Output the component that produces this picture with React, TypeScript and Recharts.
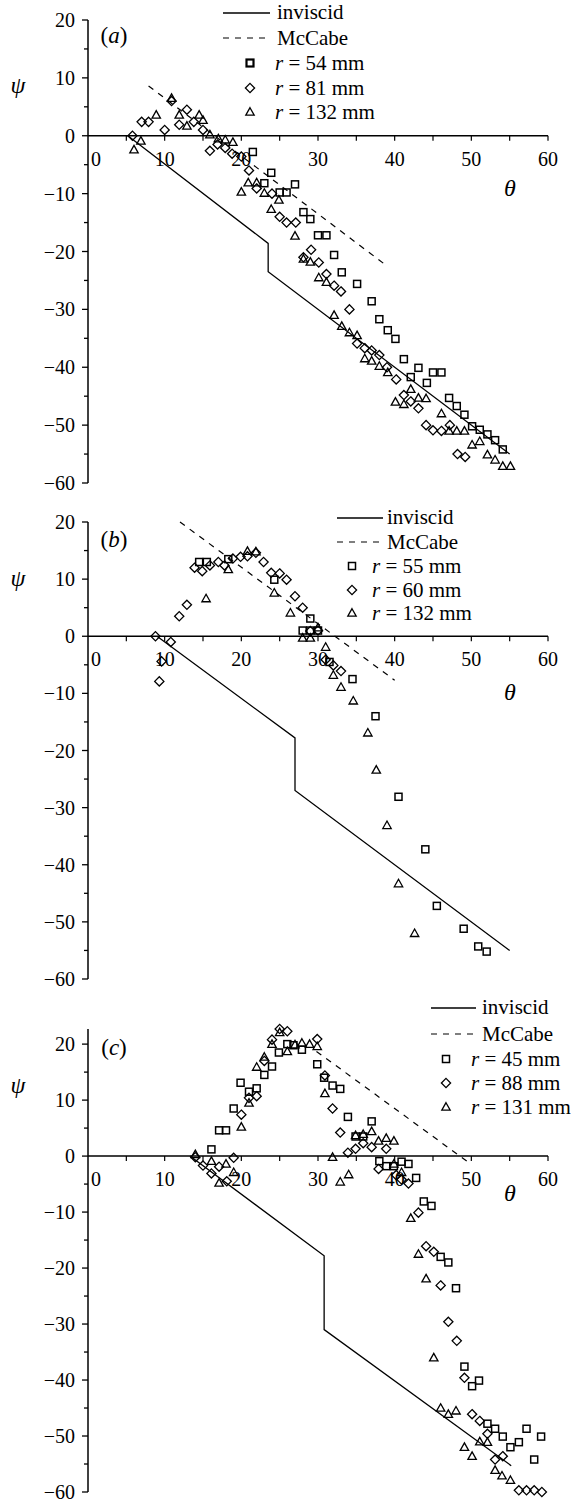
import React from 'react'
import {
  ComposedChart, Scatter, Line, XAxis, YAxis, ReferenceLine, ReferenceDot, Legend, Customized,
} from 'recharts'

type Pt = [number, number]

const xTicks = [0, 5, 10, 15, 20, 25, 30, 35, 40, 45, 50, 55, 60]
const yTicks = [-60, -55, -50, -45, -40, -35, -30, -25, -20, -15, -10, -5, 0, 5, 10, 15, 20]

// (a)
const inviscidA: Pt[] = [[5.2, 0], [23.5, -18.6], [23.5, -23.5], [55, -55]]
const mccabeA: Pt[] = [[7.9, 8.6], [39.0, -22.5]]
const r54: Pt[] = [
  [21.5, -2.8], [23.0, -8.2], [23.9, -6.4], [25.0, -9.8], [25.9, -9.8], [27.0, -8.4], [28.1, -13.2],
  [29.0, -14.4], [30.0, -17.2], [31.1, -17.2], [32.1, -20.6], [33.1, -23.6], [35.1, -25.6], [37.0, -28.6],
  [38.0, -31.7], [39.1, -33.6], [40.1, -35.1], [41.2, -38.6], [42.1, -41.7], [43.1, -40.1], [44.2, -42.7],
  [45.0, -40.9], [46.1, -40.9], [47.1, -45.3], [48.1, -46.7], [49.1, -48.2], [50.1, -50.2], [51.1, -50.8],
  [52.1, -51.6], [53.1, -52.6], [54.1, -54.2],
]
const r81: Pt[] = [
  [5.8, 0], [7.0, 2.4], [7.9, 2.4], [10.0, 1.0], [10.9, 6.0], [11.9, 1.9], [12.9, 4.5], [13.8, 2.4],
  [15.0, 1.0], [15.9, -2.6], [16.9, -1.5], [17.9, -2.1], [18.8, -3.1], [20.0, -3.6], [21.0, -6.0],
  [22.0, -9.1], [24.0, -10.0], [25.0, -14.0], [25.9, -15.0], [27.1, -15.0], [28.1, -21.0], [29.1, -19.7],
  [30.1, -21.9], [31.1, -23.9], [32.1, -25.9], [33.0, -26.9], [34.1, -30.0], [35.1, -35.9], [36.1, -36.7],
  [37.0, -37.1], [38.0, -37.9], [39.0, -40.0], [40.2, -42.1], [41.2, -44.8], [42.1, -45.9], [43.1, -47.1],
  [44.1, -50.0], [45.0, -50.9], [46.1, -51.0], [47.2, -50.0], [48.2, -55.0], [49.2, -55.5],
]
const r132a: Pt[] = [
  [6.0, -2.4], [6.9, -0.9], [8.9, 3.6], [10.9, 6.5], [11.9, 3.6], [12.9, 1.7], [14.5, 3.6], [15.0, 2.7],
  [15.9, 0.2], [17.0, -0.5], [17.9, -0.7], [18.9, -1.1], [20.0, -9.7], [20.9, -8.1], [22.0, -8.1],
  [23.0, -9.9], [23.9, -12.7], [24.9, -11.1], [27.0, -17.3], [28.1, -21.3], [29.0, -21.8], [30.1, -24.5],
  [31.1, -25.3], [32.1, -31.0], [33.1, -32.9], [34.1, -34.0], [35.1, -34.5], [36.1, -38.5], [37.0, -38.9],
  [38.0, -39.8], [39.1, -40.9], [40.1, -46.0], [41.2, -46.4], [42.1, -43.8], [43.1, -45.3], [44.1, -45.4],
  [46.1, -48.0], [47.1, -51.0], [48.1, -51.0], [49.1, -51.0], [50.1, -53.4], [51.1, -52.8], [52.1, -55.1],
  [53.1, -56.0], [54.1, -57.1], [55.1, -57.1],
]

// (b)
const inviscidB: Pt[] = [[9.0, 0], [27.0, -17.8], [27.0, -27.0], [55, -55]]
const mccabeB: Pt[] = [[12.0, 20], [40.0, -7.7]]
const r55: Pt[] = [
  [14.5, 13.0], [15.5, 13.0], [18.3, 13.5], [24.3, 9.9], [28.0, 1.0], [29.0, 3.1], [29.0, 1.0], [30.0, 1.0],
  [31.5, -4.5], [34.5, -7.5], [37.5, -14.0], [40.5, -28.1], [44.0, -37.3], [45.5, -47.2], [49.0, -51.2],
  [50.9, -54.3], [52.0, -55.2],
]
const r60: Pt[] = [
  [8.8, 0], [9.3, -7.9], [9.6, -4.4], [10.8, -1.0], [11.9, 3.5], [12.9, 5.5], [13.9, 12.0], [14.9, 11.4],
  [15.9, 12.4], [17.0, 13.0], [17.8, 12.4], [18.9, 13.6], [19.9, 13.9], [20.8, 14.0], [21.9, 14.6],
  [22.9, 13.0], [23.9, 11.1], [25.0, 11.0], [25.9, 9.9], [27.0, 7.0], [28.0, 5.0], [29.0, 0.9], [30.0, 1.0],
  [31.0, -4.1], [32.0, -5.1], [33.0, -6.1],
]
const r132b: Pt[] = [
  [15.4, 6.6], [18.3, 11.7], [20.8, 14.9], [21.9, 14.8], [24.3, 7.6], [26.4, 4.1], [28.0, -0.3], [29.0, -0.3],
  [30.0, 1.5], [31.0, -1.9], [32.0, -6.8], [33.0, -8.9], [34.6, -11.3], [36.5, -16.9], [37.6, -23.4],
  [39.0, -33.1], [40.5, -43.3], [42.6, -52.0],
]

// (c)
const inviscidC: Pt[] = [[13.3, 0], [30.8, -17.8], [30.8, -31.0], [55.2, -55.3]]
const mccabeC: Pt[] = [[29.8, 18.7], [50.0, -1.5]]
const r45: Pt[] = [
  [16.1, 1.2], [17.1, 4.6], [18.0, 4.6], [19.0, 8.5], [19.9, 13.1], [21.0, 11.5], [22.0, 12.1], [23.0, 14.5],
  [24.0, 16.0], [24.9, 18.5], [26.0, 20.0], [26.8, 19.8], [27.9, 19.0], [29.9, 16.4], [30.8, 14.0],
  [31.9, 12.6], [32.9, 12.0], [33.9, 7.0], [34.9, 3.5], [35.9, 3.5], [37.0, 6.2], [38.0, -0.9], [38.9, -1.8],
  [39.9, -1.8], [40.9, -1.0], [41.8, -1.4], [42.8, -3.9], [43.8, -8.1], [44.8, -8.9], [46.0, -18.0],
  [47.0, -19.0], [48.0, -23.6], [49.1, -37.6], [50.1, -41.1], [51.0, -40.1], [52.1, -47.8], [53.1, -48.7],
  [54.1, -50.1], [55.1, -52.0], [56.2, -51.1], [57.2, -48.7], [58.2, -54.2], [59.1, -50.1],
]
const r88: Pt[] = [
  [14.0, -0.2], [15.0, -1.7], [16.1, -3.1], [17.1, -1.9], [18.1, -4.5], [19.0, -0.3], [20.0, 7.4],
  [21.0, 10.4], [22.0, 10.7], [23.0, 17.0], [24.0, 20.8], [25.0, 22.7], [26.0, 22.3], [29.9, 20.9],
  [30.9, 14.4], [31.9, 8.5], [32.9, 4.2], [33.9, 0.6], [34.9, 1.3], [35.9, 2.3], [37.0, 1.6], [37.9, -2.3],
  [38.9, 1.3], [40.2, -3.4], [40.9, -4.2], [41.8, -4.9], [43.1, -10.1], [44.1, -16.1], [45.1, -17.1],
  [46.0, -23.1], [47.0, -29.6], [48.1, -33.0], [49.1, -39.6], [50.1, -46.1], [51.1, -47.3], [52.1, -49.6],
  [53.1, -54.2], [54.1, -53.6], [56.2, -59.7], [57.2, -59.7], [58.2, -59.7], [59.2, -60.0],
]
const r131: Pt[] = [
  [14.0, 0.3], [16.1, -0.9], [17.1, -4.8], [18.0, -1.4], [19.0, -2.9], [20.0, 5.2], [21.0, 9.5],
  [22.0, 15.9], [23.0, 17.7], [24.0, 20.0], [25.0, 22.1], [26.0, 18.7], [27.0, 19.9], [27.9, 20.2],
  [28.9, 20.0], [29.9, 19.6], [30.9, 11.2], [31.9, -0.2], [32.9, -4.6], [34.0, -3.3], [34.9, 3.7],
  [35.9, 3.9], [37.0, 4.4], [37.9, 2.7], [38.9, 3.2], [39.9, 2.7], [39.9, -1.4], [40.9, -2.9], [42.1, -11.1],
  [43.1, -17.5], [44.1, -21.9], [45.1, -36.0], [46.0, -45.0], [47.0, -46.1], [48.0, -45.5], [49.1, -52.0],
  [50.1, -53.6], [51.1, -51.0], [52.1, -51.1], [53.1, -56.1], [54.0, -57.1], [55.1, -57.9],
]

const radiiA = ['54', '81', '132']
const radiiB = ['55', '60', '132']
const radiiC = ['45', '88', '131']

const SERIF = '"Liberation Serif", "DejaVu Serif", "Times New Roman", serif'

const toXY = (pts: Pt[]) => pts.map(([x, y]) => ({ x, y }))
const fmtY = (v: number) => (v < 0 ? `\u2212${-v}` : `${v}`)

type Kind = 'square' | 'diamond' | 'triangle'

function Marker({ cx, cy, kind, bold }: { cx: number; cy: number; kind: Kind; bold?: boolean }) {
  const sw = bold ? 2.2 : 1.3
  if (kind === 'square') {
    return <rect x={cx - 3.5} y={cy - 3.5} width={7} height={7} fill="none" stroke="#000" strokeWidth={bold ? 2.2 : 1.5} />
  }
  if (kind === 'diamond') {
    return (
      <polygon points={`${cx},${cy - 4.6} ${cx + 4.6},${cy} ${cx},${cy + 4.6} ${cx - 4.6},${cy}`}
        fill="none" stroke="#000" strokeWidth={sw} />
    )
  }
  return (
    <polygon points={`${cx},${cy - 4.3} ${cx + 4.2},${cy + 3.2} ${cx - 4.2},${cy + 3.2}`}
      fill="none" stroke="#000" strokeWidth={sw} />
  )
}

const shapeOf = (kind: Kind) => (p: any) => <Marker cx={p.cx} cy={p.cy} kind={kind} />

function YTick(props: any) {
  const { x, y, payload } = props
  const major = payload.value % 10 === 0
  return (
    <g>
      <line x1={x} y1={y} x2={x - (major ? 6 : 4)} y2={y} stroke="#000" strokeWidth={1.3} />
      {major && (
        <text x={x - 13} y={y} dy={7} textAnchor="end" fontSize={20} fontFamily={SERIF} fill="#000">
          {fmtY(payload.value)}
        </text>
      )}
    </g>
  )
}

function XTick({ cx, cy, value }: { cx: number; cy: number; value: number }) {
  const major = value % 10 === 0
  return (
    <g>
      {value > 0 && <line x1={cx} y1={cy} x2={cx} y2={cy + 5} stroke="#000" strokeWidth={1.2} />}
      {major && (
        <text x={cx + (value === 0 ? 8 : 0)} y={cy + 30} textAnchor="middle" fontSize={20} fontFamily={SERIF} fill="#000">
          {value}
        </text>
      )}
    </g>
  )
}

interface LegendPos {
  lineX1: number
  lineX2: number
  textX: number
  markerX: number
  rTextX: number
  rows: number[]
}

interface PanelCfg {
  top: number
  height: number
  mt: number
  mb: number
  tag: string
  inviscid: Pt[]
  mccabe: Pt[]
  square: Pt[]
  diamond: Pt[]
  triangle: Pt[]
  radii: string[]
  boldSquare: boolean
  legend: LegendPos
  psiY: number
  thetaY: number
  tagY: number
}

function PanelLegend({ cfg }: { cfg: PanelCfg }) {
  const L = cfg.legend
  const kinds: Kind[] = ['square', 'diamond', 'triangle']
  const txt = { fontSize: 21, fontFamily: SERIF, fill: '#000' }
  return (
    <svg width={576} height={cfg.height} style={{ display: 'block', overflow: 'visible' }}>
      <line x1={L.lineX1} x2={L.lineX2} y1={L.rows[0]} y2={L.rows[0]} stroke="#000" strokeWidth={1.3} />
      <text x={L.textX} y={L.rows[0] + 6} {...txt}>inviscid</text>
      <line x1={L.lineX1} x2={L.lineX2} y1={L.rows[1]} y2={L.rows[1]} stroke="#000" strokeWidth={1.2} strokeDasharray="6 6" />
      <text x={L.textX} y={L.rows[1] + 7} {...txt}>McCabe</text>
      {kinds.map((k, i) => (
        <g key={k}>
          <Marker cx={L.markerX} cy={L.rows[i + 2]} kind={k} bold={k === 'square' && cfg.boldSquare} />
          <text x={L.rTextX} y={L.rows[i + 2] + 7} {...txt}>
            <tspan fontStyle="italic">r</tspan>
            {` = ${cfg.radii[i]} mm`}
          </text>
        </g>
      ))}
    </svg>
  )
}

function AxisLetters({ cfg }: { cfg: PanelCfg }) {
  return (
    <g fontFamily={SERIF} fill="#000">
      <text x={18} y={cfg.psiY} textAnchor="middle" fontSize={24} fontStyle="italic">ψ</text>
      <text x={510} y={cfg.thetaY} textAnchor="middle" fontSize={24} fontStyle="italic">θ</text>
      <text x={114} y={cfg.tagY} textAnchor="middle" fontSize={23}>
        (<tspan fontStyle="italic">{cfg.tag}</tspan>)
      </text>
    </g>
  )
}

function Panel({ cfg }: { cfg: PanelCfg }) {
  return (
    <div style={{ position: 'absolute', left: 0, top: cfg.top }}>
      <ComposedChart width={576} height={cfg.height} margin={{ top: cfg.mt, right: 28, bottom: cfg.mb, left: 28 }}>
        <XAxis type="number" dataKey="x" domain={[0, 60]} hide />
        <YAxis
          type="number" dataKey="y" domain={[-60, 20]} ticks={yTicks} interval={0} width={60}
          tickSize={0} tickMargin={0} tickLine={false} tick={<YTick />}
          axisLine={{ stroke: '#000', strokeWidth: 1.5 }}
        />
        <ReferenceLine y={0} stroke="#000" strokeWidth={1.5} />
        {xTicks.map(t => (
          <ReferenceDot key={t} x={t} y={0} shape={(p: any) => <XTick cx={p.cx} cy={p.cy} value={t} />} />
        ))}
        <Line data={toXY(cfg.inviscid)} dataKey="y" stroke="#000" strokeWidth={1.3} dot={false} isAnimationActive={false} />
        <Line data={toXY(cfg.mccabe)} dataKey="y" stroke="#000" strokeWidth={1.2} strokeDasharray="6 6" dot={false} isAnimationActive={false} />
        <Scatter data={toXY(cfg.square)} dataKey="y" shape={shapeOf('square')} isAnimationActive={false} />
        <Scatter data={toXY(cfg.diamond)} dataKey="y" shape={shapeOf('diamond')} isAnimationActive={false} />
        <Scatter data={toXY(cfg.triangle)} dataKey="y" shape={shapeOf('triangle')} isAnimationActive={false} />
        <Legend
          layout="vertical" align="center" verticalAlign="middle"
          wrapperStyle={{ top: 0, left: 0, width: 576, height: cfg.height, pointerEvents: 'none' }}
          content={() => <PanelLegend cfg={cfg} />}
        />
        <Customized component={<AxisLetters cfg={cfg} />} />
      </ComposedChart>
    </div>
  )
}

const panels: PanelCfg[] = [
  {
    top: 0, height: 500, mt: 20, mb: 17, tag: 'a',
    inviscid: inviscidA, mccabe: mccabeA, square: r54, diamond: r81, triangle: r132a,
    radii: radiiA, boldSquare: true,
    legend: { lineX1: 223, lineX2: 270, textX: 277, markerX: 250, rTextX: 275, rows: [13, 38, 63, 88, 112] },
    psiY: 93, thetaY: 196, tagY: 43,
  },
  {
    top: 500, height: 500, mt: 22, mb: 21, tag: 'b',
    inviscid: inviscidB, mccabe: mccabeB, square: r55, diamond: r60, triangle: r132b,
    radii: radiiB, boldSquare: false,
    legend: { lineX1: 337, lineX2: 383, textX: 387, markerX: 352, rTextX: 372, rows: [18, 42, 66, 90, 113] },
    psiY: 86, thetaY: 200, tagY: 47,
  },
  {
    top: 1000, height: 504, mt: 29, mb: 12, tag: 'c',
    inviscid: inviscidC, mccabe: mccabeC, square: r45, diamond: r88, triangle: r131,
    radii: radiiC, boldSquare: false,
    legend: { lineX1: 431, lineX2: 476, textX: 482, markerX: 446, rTextX: 471, rows: [8, 34, 59, 83, 107] },
    psiY: 93, thetaY: 201, tagY: 55,
  },
]

export default function App() {
  return (
    <div style={{ position: 'absolute', left: 0, top: 0, width: 576, height: 1504, background: '#fff' }}>
      {panels.map(p => <Panel key={p.tag} cfg={p} />)}
    </div>
  )
}
